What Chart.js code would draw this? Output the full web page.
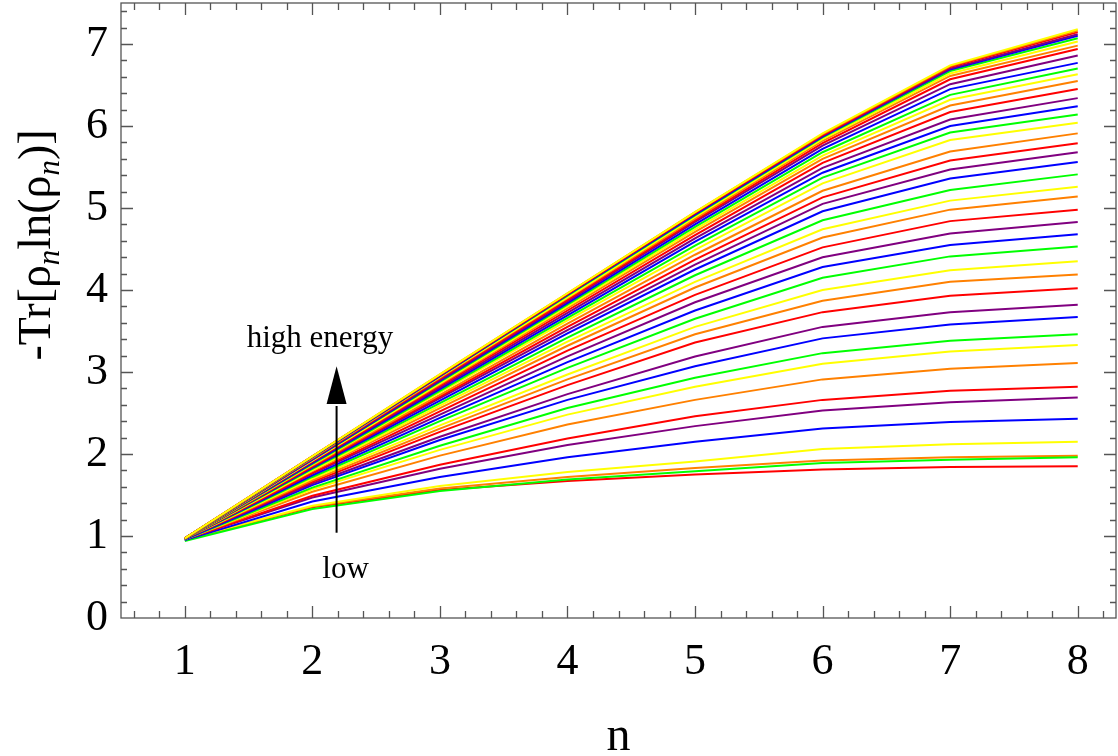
<!DOCTYPE html>
<html>
<head>
<meta charset="utf-8">
<script src="https://cdn.jsdelivr.net/npm/chart.js@4"></script>
<style>
  html, body { margin: 0; padding: 0; background: #fff; }
  #wrap { width: 1118px; height: 756px; }
</style>
</head>
<body>
<div id="wrap"><canvas id="eChart"></canvas></div>
<script>
// Axis values and tick labels
var nValues = [1, 2, 3, 4, 5, 6, 7, 8];
var xTicks = [1, 2, 3, 4, 5, 6, 7, 8];
var yTicks = [0, 1, 2, 3, 4, 5, 6, 7];
var lineColors = ['#ff0000', '#ff8000', '#ffff00', '#00ff00', '#0000ff', '#800080'];

// -Tr[rho_n ln(rho_n)] curves, from low energy up to high energy
var entropy = [
  [0.96, 1.35, 1.56, 1.67, 1.75, 1.81, 1.84, 1.85],
  [0.95, 1.36, 1.58, 1.72, 1.83, 1.92, 1.96, 1.98],
  [0.96, 1.37, 1.61, 1.78, 1.91, 2.06, 2.12, 2.15],
  [0.94, 1.33, 1.55, 1.69, 1.79, 1.89, 1.93, 1.96],
  [0.95, 1.42, 1.72, 1.96, 2.15, 2.31, 2.39, 2.43],
  [0.96, 1.47, 1.82, 2.11, 2.34, 2.53, 2.63, 2.69],
  [0.96, 1.49, 1.87, 2.19, 2.46, 2.66, 2.77, 2.82],
  [0.96, 1.54, 1.98, 2.36, 2.66, 2.91, 3.04, 3.11],
  [0.96, 1.57, 2.05, 2.48, 2.82, 3.10, 3.25, 3.33],
  [0.96, 1.59, 2.10, 2.56, 2.93, 3.23, 3.38, 3.46],
  [0.96, 1.62, 2.17, 2.66, 3.07, 3.41, 3.58, 3.67],
  [0.97, 1.64, 2.21, 2.73, 3.19, 3.55, 3.73, 3.82],
  [0.97, 1.66, 2.27, 2.84, 3.36, 3.73, 3.93, 4.02],
  [0.97, 1.68, 2.31, 2.91, 3.46, 3.87, 4.10, 4.19],
  [0.97, 1.70, 2.35, 2.97, 3.55, 4.00, 4.24, 4.35],
  [0.97, 1.72, 2.40, 3.05, 3.65, 4.15, 4.41, 4.53],
  [0.97, 1.74, 2.44, 3.12, 3.75, 4.28, 4.55, 4.68],
  [0.97, 1.76, 2.48, 3.19, 3.85, 4.40, 4.69, 4.83],
  [0.97, 1.77, 2.52, 3.26, 3.94, 4.52, 4.84, 4.98],
  [0.97, 1.79, 2.56, 3.32, 4.03, 4.64, 4.98, 5.14],
  [0.97, 1.80, 2.59, 3.37, 4.10, 4.74, 5.09, 5.26],
  [0.97, 1.82, 2.62, 3.42, 4.18, 4.85, 5.22, 5.41],
  [0.97, 1.83, 2.65, 3.47, 4.25, 4.96, 5.36, 5.56],
  [0.97, 1.84, 2.68, 3.51, 4.31, 5.05, 5.47, 5.68],
  [0.97, 1.85, 2.70, 3.55, 4.37, 5.13, 5.58, 5.79],
  [0.97, 1.86, 2.72, 3.59, 4.43, 5.21, 5.69, 5.91],
  [0.97, 1.87, 2.75, 3.63, 4.49, 5.30, 5.83, 6.04],
  [0.97, 1.88, 2.77, 3.66, 4.54, 5.37, 5.92, 6.14],
  [0.97, 1.89, 2.79, 3.69, 4.59, 5.43, 6.00, 6.24],
  [0.97, 1.90, 2.81, 3.72, 4.63, 5.49, 6.08, 6.34],
  [0.97, 1.91, 2.83, 3.75, 4.67, 5.55, 6.17, 6.45],
  [0.97, 1.92, 2.85, 3.78, 4.71, 5.60, 6.25, 6.55],
  [0.97, 1.92, 2.86, 3.80, 4.74, 5.64, 6.32, 6.63],
  [0.97, 1.93, 2.88, 3.82, 4.77, 5.68, 6.38, 6.70],
  [0.97, 1.93, 2.89, 3.84, 4.80, 5.72, 6.45, 6.77],
  [0.97, 1.94, 2.90, 3.86, 4.83, 5.76, 6.51, 6.86],
  [0.97, 1.95, 2.92, 3.88, 4.85, 5.79, 6.57, 6.94],
  [0.97, 1.95, 2.93, 3.90, 4.87, 5.82, 6.61, 6.98],
  [0.97, 1.96, 2.94, 3.91, 4.89, 5.84, 6.64, 7.03],
  [0.97, 1.96, 2.95, 3.93, 4.91, 5.86, 6.67, 7.07],
  [0.97, 1.96, 2.95, 3.94, 4.92, 5.87, 6.69, 7.10],
  [0.97, 1.97, 2.96, 3.95, 4.93, 5.88, 6.70, 7.12],
  [0.97, 1.97, 2.96, 3.95, 4.94, 5.89, 6.72, 7.145],
  [0.97, 1.97, 2.97, 3.96, 4.95, 5.90, 6.73, 7.165],
  [0.97, 1.97, 2.97, 3.96, 4.95, 5.91, 6.74, 7.18]
];

var serif = '"Liberation Serif", "Times New Roman", serif';

var datasets = entropy.map(function(row, i) {
  return {
    data: row.map(function(v, j) { return { x: nValues[j], y: v }; }),
    borderColor: lineColors[i % lineColors.length],
    borderWidth: 2,
    pointRadius: 0,
    fill: false,
    tension: 0,
    order: entropy.length - i   // later curves on top, like the original
  };
});

// Mathematica-like frame with inward ticks, y label and arrow annotation
var framePlugin = {
  id: 'frame',
  afterDatasetsDraw: function(chart) {
    var ctx = chart.ctx;
    var a = chart.chartArea;
    var xs = chart.scales.x, ys = chart.scales.y;
    ctx.save();
    ctx.strokeStyle = '#555';
    ctx.lineWidth = 1.3;
    ctx.strokeRect(a.left, a.top, a.right - a.left, a.bottom - a.top);

    ctx.beginPath();
    var k, v, p, len;
    for (k = Math.ceil(xs.min * 5); k <= Math.floor(xs.max * 5); k++) {
      v = k / 5;
      p = Math.round(xs.getPixelForValue(v)) + 0.5;
      len = (k % 5 === 0) ? 12 : 7;
      ctx.moveTo(p, a.bottom); ctx.lineTo(p, a.bottom - len);
      ctx.moveTo(p, a.top); ctx.lineTo(p, a.top + len);
    }
    for (k = Math.ceil(ys.min * 5) + 1; k <= Math.floor(ys.max * 5); k++) {
      v = k / 5;
      p = Math.round(ys.getPixelForValue(v)) + 0.5;
      len = (k % 5 === 0) ? 12 : 6;
      ctx.moveTo(a.left, p); ctx.lineTo(a.left + len, p);
      ctx.moveTo(a.right, p); ctx.lineTo(a.right - len, p);
    }
    ctx.stroke();

    // arrow from low to high energy
    var ax = xs.getPixelForValue(2.19);
    var yLow = ys.getPixelForValue(1.04);
    var yTip = ys.getPixelForValue(3.07);
    var yBase = ys.getPixelForValue(2.61);
    ctx.strokeStyle = '#000';
    ctx.lineWidth = 2;
    ctx.beginPath();
    ctx.moveTo(ax, yLow); ctx.lineTo(ax, yBase + 2);
    ctx.stroke();
    ctx.fillStyle = '#000';
    ctx.beginPath();
    ctx.moveTo(ax, yTip);
    ctx.lineTo(ax - 10, yBase);
    ctx.lineTo(ax + 10, yBase);
    ctx.closePath();
    ctx.fill();

    ctx.font = '31px ' + serif;
    ctx.textAlign = 'center';
    ctx.textBaseline = 'alphabetic';
    ctx.fillText('high energy', xs.getPixelForValue(2.06), ys.getPixelForValue(3.30));
    ctx.fillText('low', xs.getPixelForValue(2.26), ys.getPixelForValue(0.49));

    // rotated y axis title: -Tr[ρ_n ln(ρ_n)]
    var big = '46px ' + serif, sub = 'italic 31px ' + serif;
    var parts = [
      { t: '-Tr[', f: big, dy: 0 },
      { t: 'ρ', f: big, dy: 0 },
      { t: 'n', f: sub, dy: 9 },
      { t: 'ln(', f: big, dy: 0 },
      { t: 'ρ', f: big, dy: 0 },
      { t: 'n', f: sub, dy: 9 },
      { t: ')]', f: big, dy: 0 }
    ];
    var total = 0;
    parts.forEach(function(pt) { ctx.font = pt.f; pt.w = ctx.measureText(pt.t).width; total += pt.w; });
    ctx.translate(50, 245);
    ctx.rotate(-Math.PI / 2);
    ctx.textAlign = 'left';
    var cx = -total / 2;
    parts.forEach(function(pt) {
      ctx.font = pt.f;
      ctx.fillText(pt.t, cx, pt.dy);
      cx += pt.w;
    });
    ctx.restore();
  }
};

var ctx = document.getElementById('eChart').getContext('2d');
var eChart = new Chart(ctx, {
  type: 'line',
  data: { datasets: datasets },
  options: {
    responsive: true,
    maintainAspectRatio: false,
    animation: false,
    layout: { padding: { top: 3, right: 2, left: 0, bottom: 0 } },
    plugins: {
      legend: { display: false },
      tooltip: { enabled: false }
    },
    scales: {
      x: {
        type: 'linear',
        min: 0.5,
        max: 8.3,
        afterBuildTicks: function(scale) {
          scale.ticks = xTicks.map(function(v) { return { value: v }; });
        },
        afterFit: function(scale) {
          scale.height = 138;
          scale.paddingLeft = 0;
          scale.paddingRight = 0;
        },
        grid: { display: false, drawTicks: false },
        border: { display: false },
        ticks: {
          font: { size: 44, family: serif },
          color: '#000',
          padding: 18,
          maxRotation: 0
        },
        title: {
          display: true,
          text: 'n',
          font: { size: 48, family: serif },
          color: '#000',
          padding: { top: 0, bottom: -10 }
        }
      },
      y: {
        type: 'linear',
        min: 0,
        max: 7.5,
        afterBuildTicks: function(scale) {
          scale.ticks = yTicks.map(function(v) { return { value: v }; });
        },
        afterFit: function(scale) {
          scale.width = 121;
          scale.paddingTop = 0;
          scale.paddingBottom = 0;
        },
        grid: { display: false, drawTicks: false },
        border: { display: false },
        ticks: {
          font: { size: 44, family: serif },
          color: '#000',
          padding: 13
        }
      }
    }
  },
  plugins: [framePlugin]
});
</script>
</body>
</html>
